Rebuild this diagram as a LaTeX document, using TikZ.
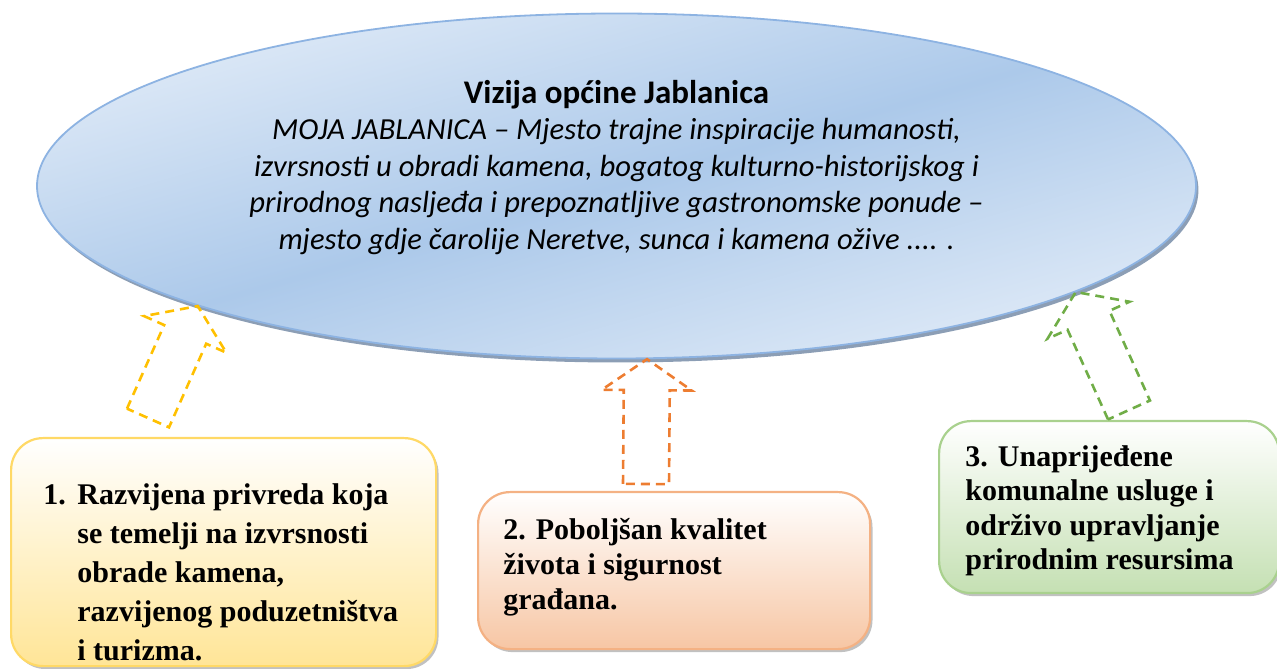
\documentclass[tikz,border=0pt]{standalone}
\usepackage{fontspec}
\setmainfont{Liberation Serif}
\newfontfamily\carlito{Carlito}
\usetikzlibrary{positioning,shapes.geometric,shadows,calc}

\definecolor{vislight}{RGB}{223,234,247}
\definecolor{visdark}{RGB}{172,201,234}
\definecolor{visborder}{RGB}{141,179,226}
\definecolor{visshadow}{RGB}{127,147,173}
\definecolor{goalyellow}{RGB}{255,229,151}
\definecolor{edgeyellow}{RGB}{255,217,102}
\definecolor{goalorange}{RGB}{247,198,164}
\definecolor{edgeorange}{RGB}{244,177,131}
\definecolor{goalgreen}{RGB}{197,224,179}
\definecolor{edgegreen}{RGB}{169,209,142}
\definecolor{arrowyellow}{RGB}{255,192,0}
\definecolor{arroworange}{RGB}{237,125,49}
\definecolor{arrowgreen}{RGB}{112,173,71}

\begin{document}
\begin{tikzpicture}[x=0.5pt,y=0.5pt,
    vision/.style={ellipse,draw=visborder,line width=0.9pt,inner sep=0pt,
      top color=vislight,bottom color=vislight,middle color=visdark,shading angle=16,
      minimum width=579.5pt,minimum height=172.5pt,
      drop shadow={shadow xshift=1.2pt,shadow yshift=-2pt,fill=visshadow,opacity=0.9}},
    goal/.style={rectangle,rounded corners=16pt,line width=1.1pt,inner sep=0pt,anchor=north west,
      drop shadow={shadow xshift=1.2pt,shadow yshift=-1.5pt,fill=black!30,opacity=0.8}},
    goaltext/.style={anchor=north west,inner sep=0pt,align=left},
    blockdash/.style={line width=1.3pt,dash pattern=on 4.5pt off 3pt,line join=miter}
  ]
  \useasboundingbox (0,0) rectangle (1277,668);

  % vision
  \node[vision] (vis) at (616.5,482) {};
  \node[anchor=north,inner sep=0pt,align=center,font=\carlito\fontsize{15.3}{18.2}\selectfont] (vistext) at (616.5,588)
    {{\bfseries\fontsize{16.5}{18.2}\selectfont Vizija općine Jablanica}\\
     {\itshape MOJA JABLANICA – Mjesto trajne inspiracije humanosti,}\\
     {\itshape izvrsnosti u obradi kamena, bogatog kulturno-historijskog i}\\
     {\itshape prirodnog nasljeđa i prepoznatljive gastronomske ponude –}\\
     {\itshape mjesto gdje čarolije Neretve, sunca i kamena ožive .... .}};

  % goals
  \node[goal,draw=edgeyellow,top color=white,bottom color=goalyellow,minimum width=212.5pt,minimum height=114pt] (g1) at (10,231) {};
  \node[goal,draw=edgeorange,top color=white,bottom color=goalorange,minimum width=196pt,minimum height=78.5pt] (g2) at (477,177) {};
  \node[goal,draw=edgegreen,top color=white,bottom color=goalgreen,minimum width=170pt,minimum height=86pt] (g3) at (938,248) {};

  \node[goaltext,font=\fontsize{15}{19.5}\selectfont\bfseries] (t1) at (43,185)
    {\makebox[17pt][l]{1.}Razvijena privreda koja\\
     \hspace*{17pt}se temelji na izvrsnosti\\
     \hspace*{17pt}obrade kamena,\\
     \hspace*{17pt}razvijenog poduzetništva\\
     \hspace*{17pt}i turizma.};
  \node[goaltext,font=\fontsize{15}{17.5}\selectfont\bfseries] (t2) at (503,150)
    {2. Poboljšan kvalitet\\ života i sigurnost\\ građana.};
  \node[goaltext,font=\fontsize{15}{17.25}\selectfont\bfseries] (t3) at (965,223)
    {3. Unaprijeđene\\ komunalne usluge i\\ održivo upravljanje\\ prirodnim resursima};

  % block arrows
  \coordinate (ya-tip) at (vis.196);
  \coordinate (ya-base) at (148,250);
  \coordinate (oa-tip) at (vis.280);
  \coordinate (oa-base) at (646,184);
  \coordinate (ga-tip) at (vis.347.5);
  \coordinate (ga-base) at (1129,258);
  \foreach \a/\c in {ya/arrowyellow,oa/arroworange,ga/arrowgreen}{
    \coordinate (\a-neck) at ($(\a-tip)!15.5pt!(\a-base)$);
    \draw[blockdash,draw=\c] ($(\a-base)!11.5pt!90:(\a-tip)$) -- ($(\a-neck)!11.5pt!90:(\a-tip)$)
      -- ($(\a-neck)!22.5pt!90:(\a-tip)$) -- (\a-tip) -- ($(\a-neck)!22.5pt!-90:(\a-tip)$)
      -- ($(\a-neck)!11.5pt!-90:(\a-tip)$) -- ($(\a-base)!11.5pt!-90:(\a-tip)$) -- cycle;
  }
\end{tikzpicture}
\end{document}
